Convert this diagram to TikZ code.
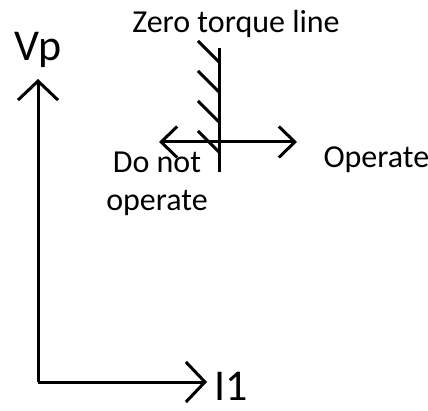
\documentclass[tikz,border=0pt]{standalone}
\usepackage{fontspec}
\setmainfont{Carlito}
\usetikzlibrary{arrows.meta,positioning}

\begin{document}
\begin{tikzpicture}[x=1pt,y=-1pt,line width=3pt,
  axisArrow/.style={-{Straight Barb[length=19pt,width=40pt]}},
  sideArrow/.style={{Straight Barb[length=16pt,width=31pt]}-{Straight Barb[length=16pt,width=31pt]}},
  bigLabel/.style={font=\fontsize{44}{48}\selectfont,inner sep=0pt},
  smallLabel/.style={font=\fontsize{32}{38}\selectfont,inner sep=0pt,align=center}]
\useasboundingbox (0,0) rectangle (428,411);
\coordinate (origin) at (38,382);
\coordinate (vpEnd) at (38,79);
\coordinate (iOneEnd) at (207,382);
\draw[axisArrow] (origin) -- (vpEnd);
\draw[axisArrow] (origin) -- (iOneEnd);
\node[bigLabel,anchor=base] (vp) at (38,61) {Vp};
\node[bigLabel,anchor=base west] (iOne) at (213,400) {I1};
% zero torque line with hatching
\coordinate (zeroTop) at (219,48);
\coordinate (zeroBot) at (219,172);
\draw (zeroTop) -- (zeroBot);
\foreach \y in {41,71,101,131}
  \draw (198,\y) -- ++(21,21);
\node[smallLabel,anchor=base] (zeroLbl) at (236,33) {Zero torque line};
% operate / do not operate
\coordinate (leftEnd) at (159,142);
\coordinate (rightEnd) at (297,142);
\draw[sideArrow] (leftEnd) -- (rightEnd);
\node[smallLabel,anchor=north] (noOp) at (157,150) {Do not\\operate};
\node[smallLabel,anchor=base west] (op) at (322,168) {Operate};
\end{tikzpicture}
\end{document}
